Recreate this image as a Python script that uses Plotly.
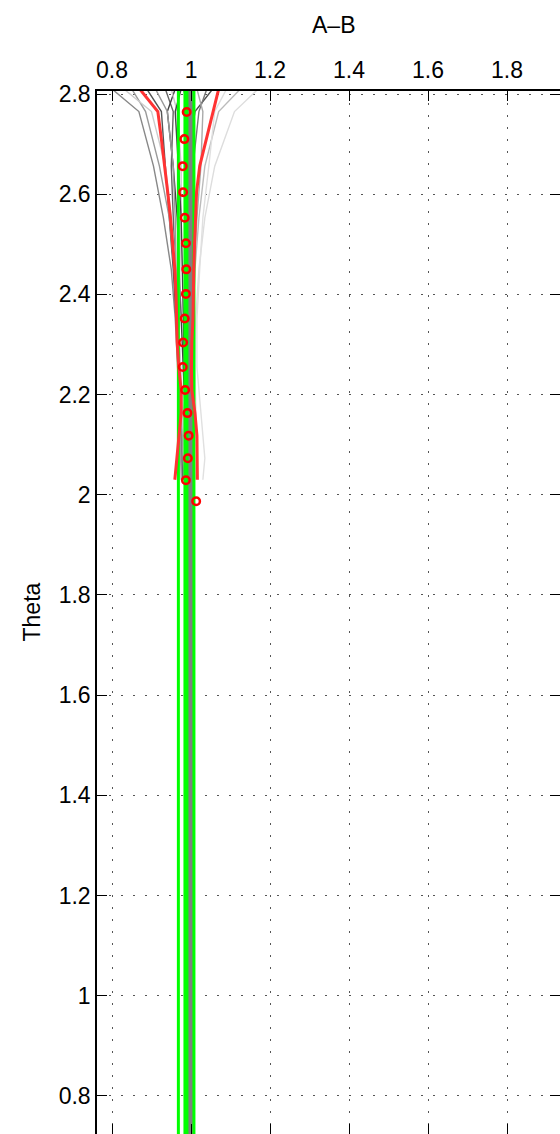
import plotly.graph_objects as go

# ---------------- data ----------------
# y levels used by the profile lines (Theta)
y_levels = [2.81, 2.765, 2.71, 2.656, 2.604, 2.553, 2.502, 2.45, 2.40, 2.352,
            2.304, 2.255, 2.209, 2.163, 2.118, 2.073, 2.03]

# red envelope lines (A-B values at y_levels)
red_left = [0.870, 0.916, 0.925, 0.934, 0.941, 0.948, 0.954, 0.959, 0.962, 0.964,
            0.965, 0.969, 0.975, 0.975, 0.970, 0.965, 0.959]
red_right = [1.070, 1.056, 1.038, 1.022, 1.014, 1.011, 1.009, 1.007, 1.006, 1.005,
             1.002, 1.001, 1.002, 1.010, 1.015, 1.016, 1.016]

# red circle markers
circ_theta = [2.764, 2.710, 2.656, 2.604, 2.553, 2.502, 2.450, 2.401, 2.352, 2.304,
              2.255, 2.209, 2.163, 2.118, 2.073, 2.029, 1.987]
circ_ab = [0.989, 0.983, 0.979, 0.980, 0.984, 0.987, 0.988, 0.987, 0.984, 0.980,
           0.979, 0.985, 0.991, 0.994, 0.992, 0.987, 1.013]

# grey ensemble lines: values at a coarser set of y levels
y_grey = [2.81, 2.765, 2.656, 2.553, 2.45, 2.352, 2.255, 2.163, 2.073, 2.03]
grey_lines = [
    [0.800, 0.868, 0.905, 0.930, 0.950, 0.960, 0.966, 0.972, 0.975, 0.978],
    [0.888, 0.925, 0.935, 0.945, 0.955, 0.962, 0.968, 0.975, 0.978, 0.980],
    [0.935, 0.955, 0.950, 0.955, 0.960, 0.965, 0.972, 0.980, 0.985, 0.985],
    [0.850, 0.885, 0.920, 0.945, 0.958, 0.966, 0.970, 0.975, 0.980, 0.982],
    [0.830, 0.900, 0.935, 0.950, 0.962, 0.968, 0.973, 0.980, 0.983, 0.985],
    [0.960, 0.940, 0.955, 0.965, 0.970, 0.975, 0.980, 0.985, 0.990, 0.992],
    [1.055, 1.010, 0.990, 0.985, 0.985, 0.985, 0.988, 0.992, 0.995, 0.995],
    [1.040, 1.020, 1.005, 0.998, 0.992, 0.990, 0.990, 0.994, 0.998, 1.000],
    [1.125, 1.070, 1.035, 1.020, 1.010, 1.005, 1.002, 1.005, 1.008, 1.010],
    [1.170, 1.110, 1.060, 1.035, 1.020, 1.012, 1.010, 1.012, 1.015, 1.018],
    [1.015, 1.030, 1.025, 1.015, 1.008, 1.004, 1.000, 0.998, 0.998, 0.998],
    [0.980, 1.000, 1.005, 1.000, 0.995, 0.990, 0.985, 0.985, 0.988, 0.990],
    [1.090, 1.060, 1.045, 1.030, 1.022, 1.015, 1.015, 1.025, 1.035, 1.030],
    [0.910, 0.940, 0.955, 0.960, 0.962, 0.965, 0.968, 0.970, 0.972, 0.975],
    [0.950, 0.965, 0.975, 0.975, 0.972, 0.970, 0.968, 0.968, 0.970, 0.972],
    [0.975, 0.960, 0.968, 0.975, 0.978, 0.980, 0.983, 0.990, 0.995, 0.998],
]
grey_colors = ["#888888", "#555555", "#666666", "#9a9a9a", "#cccccc", "#404040",
               "#505050", "#777777", "#bbbbbb", "#dddddd", "#aaaaaa", "#888888",
               "#e0e0e0", "#999999", "#c8c8c8", "#444444"]

# vertical reference lines
green_thin_x = 0.968
green_band_x = 0.996
grey_ref_x = 0.9985
vline_span = [0.6, 2.9]

x_ticks = [0.8, 1.0, 1.2, 1.4, 1.6, 1.8]
x_ticktext = ["0.8", "1", "1.2", "1.4", "1.6", "1.8"]
y_ticks = [0.8, 1.0, 1.2, 1.4, 1.6, 1.8, 2.0, 2.2, 2.4, 2.6, 2.8]
y_ticktext = ["0.8", "1", "1.2", "1.4", "1.6", "1.8", "2", "2.2", "2.4", "2.6", "2.8"]

# ---------------- figure ----------------
fig = go.Figure()

for xs, col in zip(grey_lines, grey_colors):
    fig.add_trace(go.Scatter(x=xs, y=y_grey, mode="lines",
                             line=dict(color=col, width=1.4), hoverinfo="skip"))

fig.add_trace(go.Scatter(x=[green_thin_x, green_thin_x], y=vline_span, mode="lines",
                         line=dict(color="#00ff00", width=3)))
fig.add_trace(go.Scatter(x=[green_band_x, green_band_x], y=vline_span, mode="lines",
                         line=dict(color="#00ff00", width=12)))
fig.add_trace(go.Scatter(x=[grey_ref_x, grey_ref_x], y=vline_span, mode="lines",
                         line=dict(color="#808080", width=4)))

fig.add_trace(go.Scatter(x=red_left, y=y_levels, mode="lines",
                         line=dict(color="#ff3333", width=3)))
fig.add_trace(go.Scatter(x=red_right, y=y_levels, mode="lines",
                         line=dict(color="#ff3333", width=3)))

fig.add_trace(go.Scatter(x=circ_ab, y=circ_theta, mode="markers",
                         marker=dict(symbol="circle-open", size=7.5, color="#ff0000",
                                     line=dict(width=2.5, color="#ff0000"))))

font = dict(family="Liberation Sans, Arial, sans-serif", size=23, color="black")

fig.update_layout(
    width=560, height=1134,
    margin=dict(l=97, r=0, t=91, b=0, autoexpand=False),
    paper_bgcolor="white", plot_bgcolor="white",
    showlegend=False,
    font=font,
    xaxis=dict(range=[0.762, 1.934], side="top", tickvals=x_ticks, ticktext=x_ticktext,
               ticks="inside", ticklen=10, tickcolor="black", tickwidth=1,
               showline=True, linecolor="black", linewidth=1.5, mirror="ticks",
               showgrid=True, gridcolor="#555555", gridwidth=1, griddash="1.5px,10.5px",
               zeroline=False, tickfont=font, ticklabelstandoff=2, automargin=False),
    yaxis=dict(range=[0.724, 2.806], tickvals=y_ticks, ticktext=y_ticktext,
               ticks="inside", ticklen=10, tickcolor="black", tickwidth=1,
               showline=True, linecolor="black", linewidth=1.5, mirror="ticks",
               showgrid=True, gridcolor="#555555", gridwidth=1, griddash="1.5px,10.5px",
               zeroline=False, tickfont=font, ticklabelstandoff=0, automargin=False),
    annotations=[
        dict(text="A\u2013B", xref="paper", yref="paper", x=(333 - 97) / 463,
             y=1 + (91 - 25) / 1043, showarrow=False, font=font,
             xanchor="center", yanchor="middle"),
        dict(text="Theta", xref="paper", yref="paper", x=(31 - 97) / 463,
             y=0.5, showarrow=False, font=font, textangle=-90,
             xanchor="center", yanchor="middle"),
    ],
)

fig.write_html(
    "out.html",
    config={"displayModeBar": False},
    post_script="document.body.style.margin='0';document.body.style.padding='0';"
                "document.body.style.overflow='hidden';",
)
